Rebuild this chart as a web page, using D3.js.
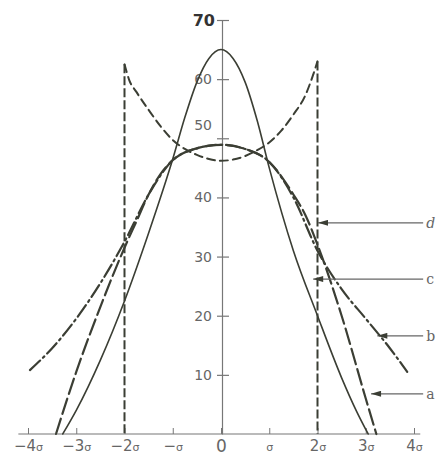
<!DOCTYPE html>
<html>
<head>
<meta charset="utf-8">
<script src="https://cdn.jsdelivr.net/npm/d3@7"></script>
<style>
  body { margin: 0; background: #fff; }
  svg { display: block; }
</style>
</head>
<body>
<div id="chart"></div>
<script>
// curve values (x in sigma units, y on the 0-70 scale)
const solidX = [-3.28, -3, -2.5, -2, -1.5, -1, -0.75, -0.5, -0.25, 0, 0.25, 0.5, 0.75, 1, 1.5, 2, 2.5, 2.8, 3.05];
const solidY = [0, 4, 12.5, 22.5, 34, 46.5, 53.5, 59.5, 63.5, 65, 63.5, 59.5, 53, 45, 31, 20, 9.5, 4, 0];

const curveAX = [-3.42, -3, -2.5, -2, -1.75, -1.5, -1.25, -1, -0.5, 0, 0.5, 1, 1.5, 1.75, 2, 2.5, 3, 3.22];
const curveAY = [0, 10.5, 21.5, 31.5, 36, 40.5, 44, 46.3, 48.3, 48.9, 48.2, 46, 40.5, 37, 32, 20, 6, 0];

const curveBX = [-3.96, -3.5, -3, -2.5, -2, -1.5, -1, -0.5, 0, 0.5, 1, 1.5, 2, 2.5, 3, 3.5, 3.86];
const curveBY = [10.8, 14.5, 19.5, 25.5, 32.5, 40.5, 46.3, 48.3, 48.9, 48.2, 46, 40, 31, 24.5, 19.5, 14.5, 10.5];

const curveDX = [-2, -1.9, -1.75, -1.5, -1.25, -1, -0.75, -0.5, -0.25, 0, 0.25, 0.5, 0.75, 1, 1.25, 1.5, 1.75, 1.9, 2];
const curveDY = [62.5, 59.8, 57.8, 54.8, 52, 49.7, 48.2, 47.2, 46.5, 46.2, 46.4, 47, 48, 49.3, 51.3, 54, 57.3, 60.5, 63];

// pointer arrows on the right
const arrowLabels = ["a", "b", "c", "d"];
const arrowLevels = [6.8, 16.6, 26.2, 35.7];
const arrowTips = [3.11, 3.24, 1.91, 2.01];

const xTicks = [-4, -3, -2, -1, 0, 1, 2, 3, 4];
const yTicks = [10, 20, 30, 40, 50, 60, 70];

const width = 437, height = 455;
const ink = "#3b3e34";

const svg = d3.select("#chart").append("svg")
  .attr("width", width)
  .attr("height", height);

const x = d3.scaleLinear().domain([-4, 4]).range([28, 414]);
const y = d3.scaleLinear().domain([0, 70]).range([434, 20]);

svg.append("defs").append("marker")
  .attr("id", "head")
  .attr("viewBox", "0 0 10 6")
  .attr("refX", 10).attr("refY", 3)
  .attr("markerWidth", 11).attr("markerHeight", 6)
  .attr("markerUnits", "userSpaceOnUse")
  .attr("orient", "auto")
  .append("path")
  .attr("d", "M0,0L10,3L0,6Z")
  .attr("fill", ink);

// x axis
svg.append("line")
  .attr("x1", x(-4.2)).attr("x2", x(4.13))
  .attr("y1", y(0)).attr("y2", y(0))
  .attr("stroke", "#777").attr("stroke-width", 1.2);

const xAxis = svg.append("g")
  .attr("transform", `translate(0,${y(0)})`)
  .call(d3.axisBottom(x).tickValues(xTicks).tickSize(-6).tickSizeOuter(0).tickPadding(6));
xAxis.select(".domain").remove();
xAxis.selectAll(".tick line").attr("stroke", "#777");
xAxis.selectAll(".tick text").text(null)
  .attr("font-family", "DejaVu Sans, sans-serif")
  .attr("font-size", d => d === 0 ? 17 : 15)
  .attr("fill", "#666")
  .call(t => {
    t.append("tspan").text(d => d === 0 ? "0" : d === 1 ? "" : d === -1 ? "\u2212" : (d < 0 ? "\u2212" + (-d) : d));
    t.append("tspan").attr("font-size", 11).text(d => d === 0 ? "" : "\u03c3");
  });

// y axis
const yAxis = svg.append("g")
  .attr("transform", `translate(${x(0) + 1},0)`)
  .call(d3.axisLeft(y).tickValues(yTicks).tickSize(-7).tickSizeOuter(0).tickPadding(10));
yAxis.select(".domain").attr("stroke", "#777").attr("stroke-width", 1.2);
yAxis.selectAll(".tick line").attr("x1", -5).attr("stroke", "#777").attr("stroke-width", 1.2);
yAxis.selectAll(".tick text")
  .attr("font-family", "DejaVu Sans, sans-serif")
  .attr("font-size", d => d === 70 ? 16 : 14)
  .attr("font-weight", d => d === 70 ? "bold" : "normal")
  .attr("fill", d => d === 70 ? "#333" : "#666")
  .attr("x", d => d === 70 ? -7 : -10)
  .attr("dy", d => d === 50 ? "-0.6em" : "0.32em");

const line = d3.line()
  .x(d => x(d[0]))
  .y(d => y(d[1]))
  .curve(d3.curveMonotoneX);

const series = [
  { xs: curveDX, ys: curveDY, dash: "8,5", w: 2 },
  { xs: solidX, ys: solidY, dash: null, w: 1.6 },
  { xs: curveAX, ys: curveAY, dash: "16,5", w: 2.2 },
  { xs: curveBX, ys: curveBY, dash: "14,4,2,4", w: 2.2 }
];

svg.selectAll("path.curve")
  .data(series)
  .join("path")
  .attr("class", "curve")
  .attr("d", s => line(s.xs.map((v, i) => [v, s.ys[i]])))
  .attr("fill", "none")
  .attr("stroke", ink)
  .attr("stroke-width", s => s.w)
  .attr("stroke-dasharray", s => s.dash)
  .attr("stroke-linecap", "round");

// vertical limits of curve d
const bounds = [[curveDX[0], curveDY[0]], [curveDX[curveDX.length - 1], curveDY[curveDY.length - 1]]];
svg.selectAll("line.bound")
  .data(bounds)
  .join("line")
  .attr("class", "bound")
  .attr("x1", d => x(d[0])).attr("x2", d => x(d[0]))
  .attr("y1", d => y(d[1])).attr("y2", y(0))
  .attr("stroke", ink)
  .attr("stroke-width", 2)
  .attr("stroke-dasharray", "9,3");

// arrows
const arrows = arrowLabels.map((l, i) => ({ label: l, level: arrowLevels[i], tip: arrowTips[i] }));
svg.selectAll("line.arrow")
  .data(arrows)
  .join("line")
  .attr("class", "arrow")
  .attr("x1", x(4.19)).attr("x2", d => x(d.tip))
  .attr("y1", d => y(d.level)).attr("y2", d => y(d.level))
  .attr("stroke", "#666")
  .attr("stroke-width", 1.2)
  .attr("marker-end", "url(#head)");

svg.selectAll("text.lab")
  .data(arrows)
  .join("text")
  .attr("class", "lab")
  .attr("x", x(4.19) + 3)
  .attr("y", d => y(d.level))
  .attr("dy", "0.35em")
  .attr("font-family", "DejaVu Serif, serif")
  .attr("font-style", d => d.label === "d" ? "italic" : "normal")
  .attr("font-size", 14)
  .attr("fill", "#666")
  .text(d => d.label);
</script>
</body>
</html>
